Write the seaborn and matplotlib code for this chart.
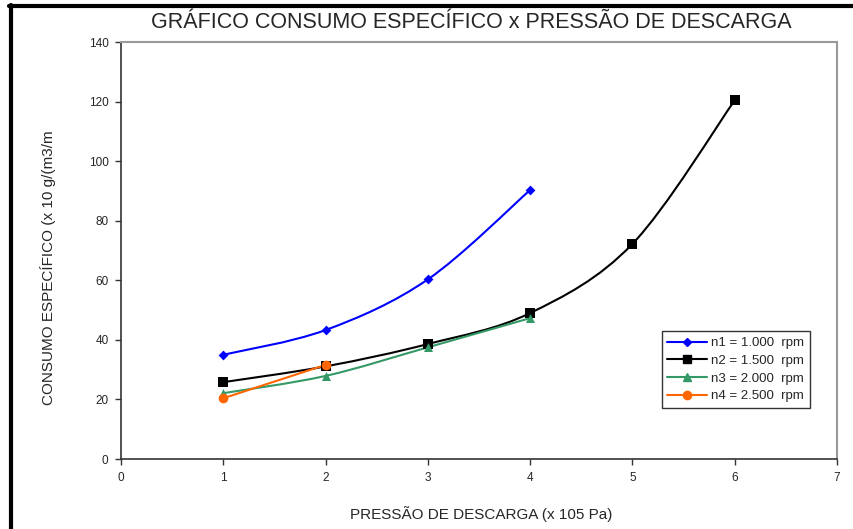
import matplotlib
matplotlib.use("Agg")
import matplotlib.pyplot as plt
from matplotlib.path import Path
from matplotlib.patches import PathPatch
from matplotlib.lines import Line2D
import seaborn as sns
import pandas as pd

# data
pressao_n1 = [1, 2, 3, 4]
consumo_n1 = [35.0, 43.3, 60.3, 90.3]
pressao_n2 = [1, 2, 3, 4, 5, 6]
consumo_n2 = [25.8, 31.1, 38.6, 49.0, 72.2, 120.4]
pressao_n3 = [1, 2, 3, 4]
consumo_n3 = [22.1, 27.9, 37.5, 47.3]
pressao_n4 = [1, 2]
consumo_n4 = [20.4, 31.6]
series_labels = ["n1 = 1.000  rpm", "n2 = 1.500  rpm", "n3 = 2.000  rpm", "n4 = 2.500  rpm"]

colors = ["#0000FF", "#000000", "#339966", "#FF6600"]
markers = ["D", "s", "^", "o"]
msizes = [5, 6.5, 6.5, 7]


def smooth_path(xs, ys):
    # Excel-style smoothed line drawn as cubic bezier segments
    verts = [(xs[0], ys[0])]
    codes = [Path.MOVETO]
    n = len(xs)
    for i in range(n - 1):
        x0, y0 = xs[max(i - 1, 0)], ys[max(i - 1, 0)]
        x1, y1 = xs[i], ys[i]
        x2, y2 = xs[i + 1], ys[i + 1]
        x3, y3 = xs[min(i + 2, n - 1)], ys[min(i + 2, n - 1)]
        c1 = (x1 + (x2 - x0) / 6, y1 + (y2 - y0) / 6)
        c2 = (x2 - (x3 - x1) / 6, y2 - (y3 - y1) / 6)
        verts += [c1, c2, (x2, y2)]
        codes += [Path.CURVE4] * 3
    return Path(verts, codes)


sns.set_style("white")
plt.rcParams["font.family"] = ["Liberation Sans", "DejaVu Sans"]

fig = plt.figure(figsize=(8.54, 5.29), dpi=100)
ax = fig.add_axes([0.1417, 0.1323, 0.8383, 0.7883])

all_series = [
    (pressao_n1, consumo_n1),
    (pressao_n2, consumo_n2),
    (pressao_n3, consumo_n3),
    (pressao_n4, consumo_n4),
]

handles = []
for (xs, ys), lab, c, m, ms in zip(all_series, series_labels, colors, markers, msizes):
    df = pd.DataFrame({"x": xs, "y": ys})
    ax.add_patch(PathPatch(smooth_path(xs, ys), facecolor="none", edgecolor=c,
                           lw=1.5, zorder=2))
    sns.scatterplot(data=df, x="x", y="y", ax=ax, color=c, marker=m,
                    s=(ms ** 2), edgecolor=c, linewidth=0, zorder=3, legend=False)
    handles.append(Line2D([], [], color=c, marker=m, markersize=ms * 0.85, lw=1.5, label=lab))

ax.set_xlim(0, 7)
ax.set_ylim(0, 140)
ax.set_xticks(range(0, 8))
ax.set_yticks(range(0, 141, 20))
ax.set_xlabel("")
ax.set_ylabel("")
ax.tick_params(axis="both", direction="out", length=4, width=1, color="#333333",
               labelsize=8.5, pad=5, left=True, bottom=True)

for side in ["left", "bottom"]:
    ax.spines[side].set_color("#333333")
    ax.spines[side].set_linewidth(1.2)
for side in ["top", "right"]:
    ax.spines[side].set_color("#999999")
    ax.spines[side].set_linewidth(1.5)

leg = ax.legend(handles=handles, loc="upper left", bbox_to_anchor=(0.755, 0.307),
                fontsize=9.5, frameon=True, fancybox=False, handlelength=3.0,
                handletextpad=0.3, borderpad=0.45, labelspacing=0.42,
                borderaxespad=0)
leg.get_frame().set_edgecolor("black")
leg.get_frame().set_linewidth(1)

fig.text(0.552, 0.958, "GRÁFICO CONSUMO ESPECÍFICO x PRESSÃO DE DESCARGA",
         ha="center", va="center", fontsize=15.5)
fig.text(0.563, 0.028, "PRESSÃO DE DESCARGA (x 105 Pa)",
         ha="center", va="center", fontsize=11)
fig.text(0.056, 0.235, "CONSUMO ESPECÍFICO (x 10 g/(m3/m", rotation=90,
         ha="center", va="bottom", fontsize=11)

# outer frame pieces visible in the original (left and top)
fig.add_artist(Line2D([0.0125, 0.0125], [0.0, 0.99], transform=fig.transFigure,
                      color="black", lw=3))
fig.add_artist(Line2D([0.0105, 1.0], [0.989, 0.989], transform=fig.transFigure,
                      color="black", lw=3))

fig.savefig("out.png", dpi=100)
